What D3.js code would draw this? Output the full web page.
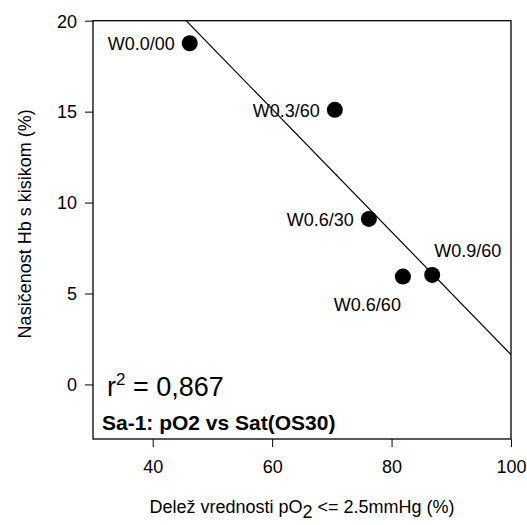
<!DOCTYPE html>
<html>
<head>
<meta charset="utf-8">
<script src="https://cdn.jsdelivr.net/npm/d3@7"></script>
<style>
  html, body { margin: 0; padding: 0; background: #fff; }
  svg { display: block; font-family: "Liberation Sans", Arial, sans-serif; }
</style>
</head>
<body>
<svg id="chart" width="527" height="525"></svg>
<script>
// Measured samples: share of pO2 readings <= 2.5 mmHg vs. Hb oxygen saturation
const sampleLabels = ["W0.0/00", "W0.3/60", "W0.6/30", "W0.6/60", "W0.9/60"];
const shareLowPO2 = [46.2, 70.5, 76.2, 81.9, 86.8];
const hbSaturation = [18.76, 15.1, 9.1, 5.93, 6.02];
const xTicks = [40, 60, 80, 100];
const yTicks = [0, 5, 10, 15, 20];
const rSquaredText = "0,867";
const panelTitle = "Sa-1: pO2 vs Sat(OS30)";

const svg = d3.select("#chart");
const plotL = 93, plotT = 20.7, plotR = 511, plotB = 439;

const x = d3.scaleLinear().domain([30, 100]).range([plotL, plotR]);
const y = d3.scaleLinear().domain([-3, 20]).range([plotB, plotT]);

// Least-squares fit of saturation on the pO2 share
const mx = d3.mean(shareLowPO2), my = d3.mean(hbSaturation);
let sxy = 0, sxx = 0;
shareLowPO2.forEach((v, i) => {
  sxy += (v - mx) * (hbSaturation[i] - my);
  sxx += (v - mx) * (v - mx);
});
const slope = sxy / sxx;
const intercept = my - slope * mx;

svg.append("defs").append("clipPath").attr("id", "plotClip")
  .append("rect")
  .attr("x", plotL).attr("y", plotT)
  .attr("width", plotR - plotL).attr("height", plotB - plotT);

// Axes
const xAxis = svg.append("g")
  .attr("transform", `translate(0,${plotB})`)
  .call(d3.axisBottom(x).tickValues(xTicks).tickSize(8).tickFormat(d3.format("d")));
xAxis.select(".domain").remove();
xAxis.selectAll("line").attr("stroke", "#000").attr("stroke-width", 1);
xAxis.selectAll("text")
  .attr("y", 34).attr("dy", 0)
  .attr("fill", "#000")
  .style("font-size", "18px");

const yAxis = svg.append("g")
  .attr("transform", `translate(${plotL},0)`)
  .call(d3.axisLeft(y).tickValues(yTicks).tickSize(8).tickFormat(d3.format("d")));
yAxis.select(".domain").remove();
yAxis.selectAll("line").attr("stroke", "#000").attr("stroke-width", 1);
yAxis.selectAll("text")
  .attr("x", -16).attr("dy", "0.35em")
  .attr("fill", "#000")
  .style("font-size", "18px");

// Plot frame
svg.append("rect")
  .attr("x", plotL).attr("y", plotT)
  .attr("width", plotR - plotL).attr("height", plotB - plotT)
  .attr("fill", "none").attr("stroke", "#000").attr("stroke-width", 1.3);

// Regression line
const xd = x.domain();
svg.append("line")
  .attr("clip-path", "url(#plotClip)")
  .attr("x1", x(xd[0])).attr("y1", y(intercept + slope * xd[0]))
  .attr("x2", x(xd[1])).attr("y2", y(intercept + slope * xd[1]))
  .attr("stroke", "#000").attr("stroke-width", 1.2);

// Points
const pts = sampleLabels.map((name, i) => ({ name, xv: shareLowPO2[i], yv: hbSaturation[i] }));
svg.append("g").selectAll("circle")
  .data(pts).join("circle")
  .attr("cx", d => x(d.xv)).attr("cy", d => y(d.yv))
  .attr("r", 8).attr("fill", "#000");

// Point labels (offset from each point, in px)
const labelPlacement = {
  "W0.0/00": { dx: -15, dy: 7, anchor: "end" },
  "W0.3/60": { dx: -15, dy: 7, anchor: "end" },
  "W0.6/30": { dx: -15, dy: 7, anchor: "end" },
  "W0.6/60": { dx: -2, dy: 34, anchor: "end" },
  "W0.9/60": { dx: 2, dy: -18, anchor: "start" }
};
svg.append("g").selectAll("text")
  .data(pts).join("text")
  .attr("x", d => x(d.xv) + labelPlacement[d.name].dx)
  .attr("y", d => y(d.yv) + labelPlacement[d.name].dy)
  .attr("text-anchor", d => labelPlacement[d.name].anchor)
  .style("font-size", "18px")
  .text(d => d.name);

// r² annotation
const rt = svg.append("text")
  .attr("x", 107).attr("y", 396)
  .style("font-size", "27px");
rt.append("tspan").text("r");
rt.append("tspan").attr("dy", -11).style("font-size", "17px").text("2");
rt.append("tspan").attr("dy", 11).text(" = " + rSquaredText);

svg.append("text")
  .attr("x", 102).attr("y", 430)
  .style("font-size", "21px").style("font-weight", "bold")
  .text(panelTitle);

// Axis titles
const xt = svg.append("text")
  .attr("x", (plotL + plotR) / 2).attr("y", 513)
  .attr("text-anchor", "middle")
  .style("font-size", "18px");
xt.append("tspan").text("Delež vrednosti pO");
xt.append("tspan").attr("dy", 5).text("2");
xt.append("tspan").attr("dy", -5).text(" <= 2.5mmHg (%)");

svg.append("text")
  .attr("transform", `translate(31,${(plotT + plotB) / 2 - 6}) rotate(-90)`)
  .attr("text-anchor", "middle")
  .style("font-size", "18px")
  .text("Nasičenost Hb s kisikom (%)");
</script>
</body>
</html>
